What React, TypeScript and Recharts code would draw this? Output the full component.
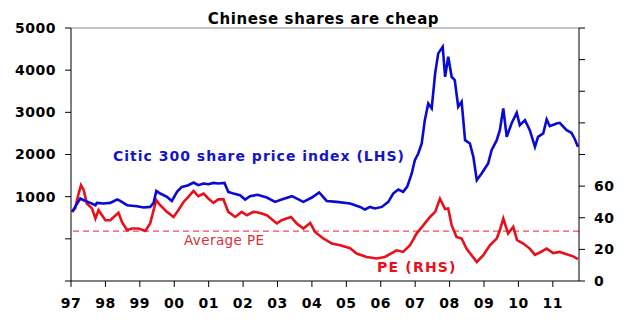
import React from 'react';
import { ComposedChart, Line, XAxis, YAxis, ReferenceLine } from 'recharts';

const citicYears = [
  1997.03, 1997.12, 1997.27, 1997.37, 1997.56, 1997.71, 1997.75, 1997.95, 1998.14, 1998.34,
  1998.43, 1998.63, 1998.92, 1999.11, 1999.3, 1999.4, 1999.48, 1999.59, 1999.79, 1999.93,
  2000.08, 2000.22, 2000.41, 2000.56, 2000.7, 2000.85, 2000.99, 2001.14, 2001.28, 2001.46,
  2001.57, 2001.72, 2001.91, 2002.06, 2002.2, 2002.42, 2002.69, 2002.93, 2003.12, 2003.42,
  2003.75, 2004.0, 2004.21, 2004.43, 2004.72, 2005.11, 2005.4, 2005.54, 2005.69, 2005.83,
  2006.03, 2006.22, 2006.36, 2006.51, 2006.65, 2006.77, 2006.9, 2006.99, 2007.09, 2007.19,
  2007.28, 2007.38, 2007.48, 2007.58, 2007.67, 2007.8, 2007.87, 2007.96, 2008.06, 2008.15,
  2008.25, 2008.35, 2008.45, 2008.59, 2008.69, 2008.79, 2008.93, 2009.12, 2009.22, 2009.37,
  2009.46, 2009.56, 2009.66, 2009.8, 2009.95, 2010.04, 2010.19, 2010.33, 2010.48, 2010.57,
  2010.72, 2010.82, 2010.91, 2011.11, 2011.2, 2011.4, 2011.54, 2011.63, 2011.73,
];
const citicValues = [
  638, 757, 956, 916, 852, 797, 852, 838, 852, 932,
  899, 797, 773, 742, 757, 852, 1137, 1075, 994, 899,
  1113, 1232, 1272, 1336, 1272, 1312, 1296, 1326, 1312, 1326,
  1113, 1075, 1035, 932, 1011, 1045, 980, 876, 932, 1011,
  876, 980, 1099, 899, 876, 838, 757, 695, 757, 719,
  757, 876, 1075, 1170, 1113, 1240, 1550, 1865, 2024, 2262,
  2815, 3211, 3093, 3924, 4398, 4555, 3843, 4317, 3843, 3765,
  3132, 3251, 2340, 2262, 1944, 1391, 1550, 1787, 2103, 2340,
  2578, 3093, 2420, 2736, 2989, 2696, 2815, 2578, 2182, 2420,
  2499, 2831, 2673, 2736, 2751, 2578, 2514, 2380, 2182,
];

const peYears = [
  1997.03, 1997.12, 1997.22, 1997.29, 1997.37, 1997.46, 1997.61, 1997.71, 1997.8, 1997.9,
  1998.0, 1998.14, 1998.38, 1998.48, 1998.63, 1998.77, 1998.96, 1999.16, 1999.3, 1999.4,
  1999.48, 1999.59, 1999.79, 1999.98, 2000.12, 2000.27, 2000.41, 2000.56, 2000.7, 2000.85,
  2000.99, 2001.14, 2001.28, 2001.43, 2001.57, 2001.77, 2001.96, 2002.11, 2002.3, 2002.4,
  2002.54, 2002.69, 2002.98, 2003.12, 2003.39, 2003.56, 2003.75, 2003.95, 2004.09, 2004.33,
  2004.58, 2004.82, 2005.11, 2005.3, 2005.59, 2005.88, 2006.12, 2006.46, 2006.65, 2006.85,
  2007.04, 2007.24, 2007.43, 2007.58, 2007.72, 2007.87, 2007.96, 2008.06, 2008.2, 2008.35,
  2008.49, 2008.79, 2008.98, 2009.17, 2009.37, 2009.46, 2009.56, 2009.7, 2009.85, 2009.96,
  2010.14, 2010.33, 2010.48, 2010.62, 2010.82, 2011.01, 2011.2, 2011.4, 2011.59, 2011.73,
];
const peValues = [
  43.7, 45.9, 55.3, 60.6, 57.4, 49.0, 45.9, 39.5, 44.8, 41.6,
  38.4, 38.4, 43.1, 37.4, 32.1, 33.2, 33.2, 31.7, 36.4, 44.8,
  51.1, 47.9, 43.7, 40.5, 44.8, 50.0, 53.2, 57.0, 53.6, 55.3,
  52.2, 49.4, 51.6, 51.6, 43.7, 40.5, 43.7, 41.6, 43.7, 43.5,
  42.7, 41.6, 36.4, 38.4, 40.5, 36.4, 33.2, 36.7, 31.0, 26.9,
  23.7, 22.6, 20.7, 17.4, 15.2, 14.2, 15.2, 19.4, 18.4, 22.6,
  30.0, 35.3, 40.5, 43.7, 52.0, 45.5, 45.9, 35.3, 27.9, 26.9,
  20.5, 12.0, 16.3, 22.6, 26.9, 32.1, 39.5, 30.0, 34.2, 25.8,
  23.7, 20.5, 16.5, 18.0, 20.5, 17.7, 18.4, 16.9, 15.6, 13.9,
];

const yearTicks = [1997, 1998, 1999, 2000, 2001, 2002, 2003, 2004, 2005, 2006, 2007, 2008, 2009, 2010, 2011];
const leftTicks = [-1000, 0, 1000, 2000, 3000, 4000, 5000];
const rightTicks = [0, 20, 40, 60, 80, 100, 120, 140, 160];
const averagePE = 31.6;

const titleText = 'Chinese shares are cheap';
const citicLabel = 'Citic 300 share price index (LHS)';
const peLabel = 'PE (RHS)';
const avgLabel = 'Average PE';

const citicData = citicYears.map((x, i) => ({ x, v: citicValues[i] }));
const peData = peYears.map((x, i) => ({ x, v: peValues[i] }));

const tickStyle = {
  fill: '#000',
  fontSize: 14,
  fontWeight: 'bold',
  fontFamily: 'DejaVu Sans',
  letterSpacing: 0.5,
};

export default function App() {
  return (
    <div style={{ position: 'absolute', left: 0, top: 0, width: 635, height: 320, background: '#fff' }}>
      <ComposedChart width={635} height={320} margin={{ top: 28, right: 0, bottom: 0, left: 0 }}>
        <XAxis
          type="number"
          dataKey="x"
          domain={[1997, 2011.76]}
          ticks={yearTicks}
          allowDataOverflow
          tickFormatter={(v: number) => String(v % 100).padStart(2, '0')}
          tick={tickStyle}
          tickSize={6}
          tickMargin={11}
          height={39}
          axisLine={{ stroke: '#000' }}
          tickLine={{ stroke: '#000' }}
          interval={0}
        />
        <YAxis
          yAxisId="l"
          orientation="left"
          domain={[-1000, 5000]}
          ticks={leftTicks}
          width={71}
          tickFormatter={(v: number) => (v >= 1000 ? String(v) : '')}
          tick={tickStyle}
          tickSize={6}
          tickMargin={9}
          axisLine={{ stroke: '#000' }}
          tickLine={{ stroke: '#000' }}
          interval={0}
        />
        <YAxis
          yAxisId="r"
          orientation="right"
          domain={[0, 160]}
          ticks={rightTicks}
          width={56}
          tickFormatter={(v: number) => (v <= 60 ? String(v) : '')}
          tick={tickStyle}
          tickSize={6}
          tickMargin={9}
          axisLine={{ stroke: '#000' }}
          tickLine={{ stroke: '#000' }}
          interval={0}
        />
        <ReferenceLine yAxisId="l" y={5000} stroke="#8c8c8c" strokeWidth={1} />
        <ReferenceLine yAxisId="r" y={averagePE} stroke="#ee4a5e" strokeWidth={1.3} strokeDasharray="6 4" />
        <Line
          yAxisId="r"
          data={peData}
          dataKey="v"
          type="linear"
          stroke="#e8101a"
          strokeWidth={2.6}
          dot={false}
          isAnimationActive={false}
        />
        <Line
          yAxisId="l"
          data={citicData}
          dataKey="v"
          type="linear"
          stroke="#0a0ad2"
          strokeWidth={2.6}
          dot={false}
          isAnimationActive={false}
        />
        <text x={323.5} y={24} textAnchor="middle" fontFamily="DejaVu Sans" fontWeight="bold" fontSize={15} letterSpacing={0.6} fill="#000">
          {titleText}
        </text>
        <text x={113} y={161} fontFamily="DejaVu Sans" fontWeight="bold" fontSize={14} letterSpacing={1} fill="#1414c8">
          {citicLabel}
        </text>
        <text x={184} y={245} fontFamily="DejaVu Sans" fontSize={13.5} letterSpacing={0.4} fill="#d8303a">
          {avgLabel}
        </text>
        <text x={377} y={272} fontFamily="DejaVu Sans" fontWeight="bold" fontSize={14} letterSpacing={1.2} fill="#e8101a">
          {peLabel}
        </text>
      </ComposedChart>
    </div>
  );
}
